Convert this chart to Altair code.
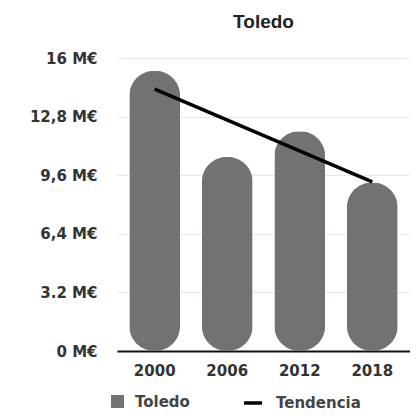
import altair as alt
import pandas as pd

years = ["2000", "2006", "2012", "2018"]
values = [15.3, 10.6, 12.0, 9.2]
trend_years = ["2000", "2018"]
trend_values = [14.3, 9.24]
y_ticks = [0, 3.2, 6.4, 9.6, 12.8, 16]
y_tick_labels = ["0 M€", "3.2 M€", "6,4 M€", "9,6 M€", "12,8 M€", "16 M€"]

bars_df = pd.DataFrame({"year": years, "value": values})
trend_df = pd.DataFrame({"year": trend_years, "value": trend_values})

label_expr = " : ".join(
    [f"datum.value == {v} ? '{l}'" for v, l in zip(y_ticks, y_tick_labels)] + ["''"]
)

FONT = "DejaVu Sans"
x_scale = alt.Scale(domain=years, paddingInner=0.3, paddingOuter=0.17)
y_scale = alt.Scale(domain=[0, 16], nice=False)

bars = alt.Chart(bars_df).mark_bar(cornerRadius=25, color="#717272").encode(
    x=alt.X("year:N", scale=x_scale, sort=years,
            axis=alt.Axis(title=None, labelAngle=0, domain=True, domainColor="#111111",
                          domainWidth=2, ticks=False, labelPadding=12, labelFontSize=15,
                          labelFont=FONT, labelFontWeight="bold", labelColor="#333333")),
    y=alt.Y("value:Q", scale=y_scale,
            axis=alt.Axis(title=None, values=y_ticks, labelExpr=label_expr, domain=False,
                          ticks=False, labelPadding=20, labelFontSize=15, labelFont=FONT,
                          labelFontWeight="bold", labelColor="#333333",
                          gridColor="#f0e2dd", gridWidth=1)),
    fill=alt.Fill("series:N", scale=alt.Scale(domain=["Toledo"], range=["#717272"]),
                  legend=alt.Legend(title=None, orient="none", legendX=-7, legendY=336,
                                    symbolType="square", symbolSize=169, labelFont=FONT,
                                    labelFontSize=15, labelFontWeight="bold",
                                    labelColor="#444444", padding=0, labelOffset=10)),
).transform_calculate(series="'Toledo'")

trend = alt.Chart(trend_df).mark_line(color="black", strokeWidth=3.5).encode(
    x=alt.X("year:N", scale=x_scale, sort=years),
    y=alt.Y("value:Q", scale=y_scale),
    stroke=alt.Stroke("series:N", scale=alt.Scale(domain=["Tendencia"], range=["black"]),
                      legend=alt.Legend(title=None, orient="none", legendX=125, legendY=334,
                                        symbolType="stroke", symbolSize=324,
                                        symbolStrokeWidth=3.5, labelFont=FONT,
                                        labelFontSize=15, labelFontWeight="bold",
                                        labelColor="#444444", padding=0, labelOffset=12)),
).transform_calculate(series="'Tendencia'")

chart = alt.layer(bars, trend).resolve_legend(fill="independent", stroke="independent").properties(
    width=293,
    height=293,
    title=alt.TitleParams("Toledo", font="Liberation Sans", fontSize=19, fontWeight="bold",
                          color="#222222", offset=19, anchor="middle"),
    autosize=alt.AutoSizeParams(type="none"),
    padding={"left": 109, "top": 50, "right": 0, "bottom": 60},
).configure_view(stroke=None)

chart.save("out.html", embed_options={"renderer": "svg", "actions": False})
